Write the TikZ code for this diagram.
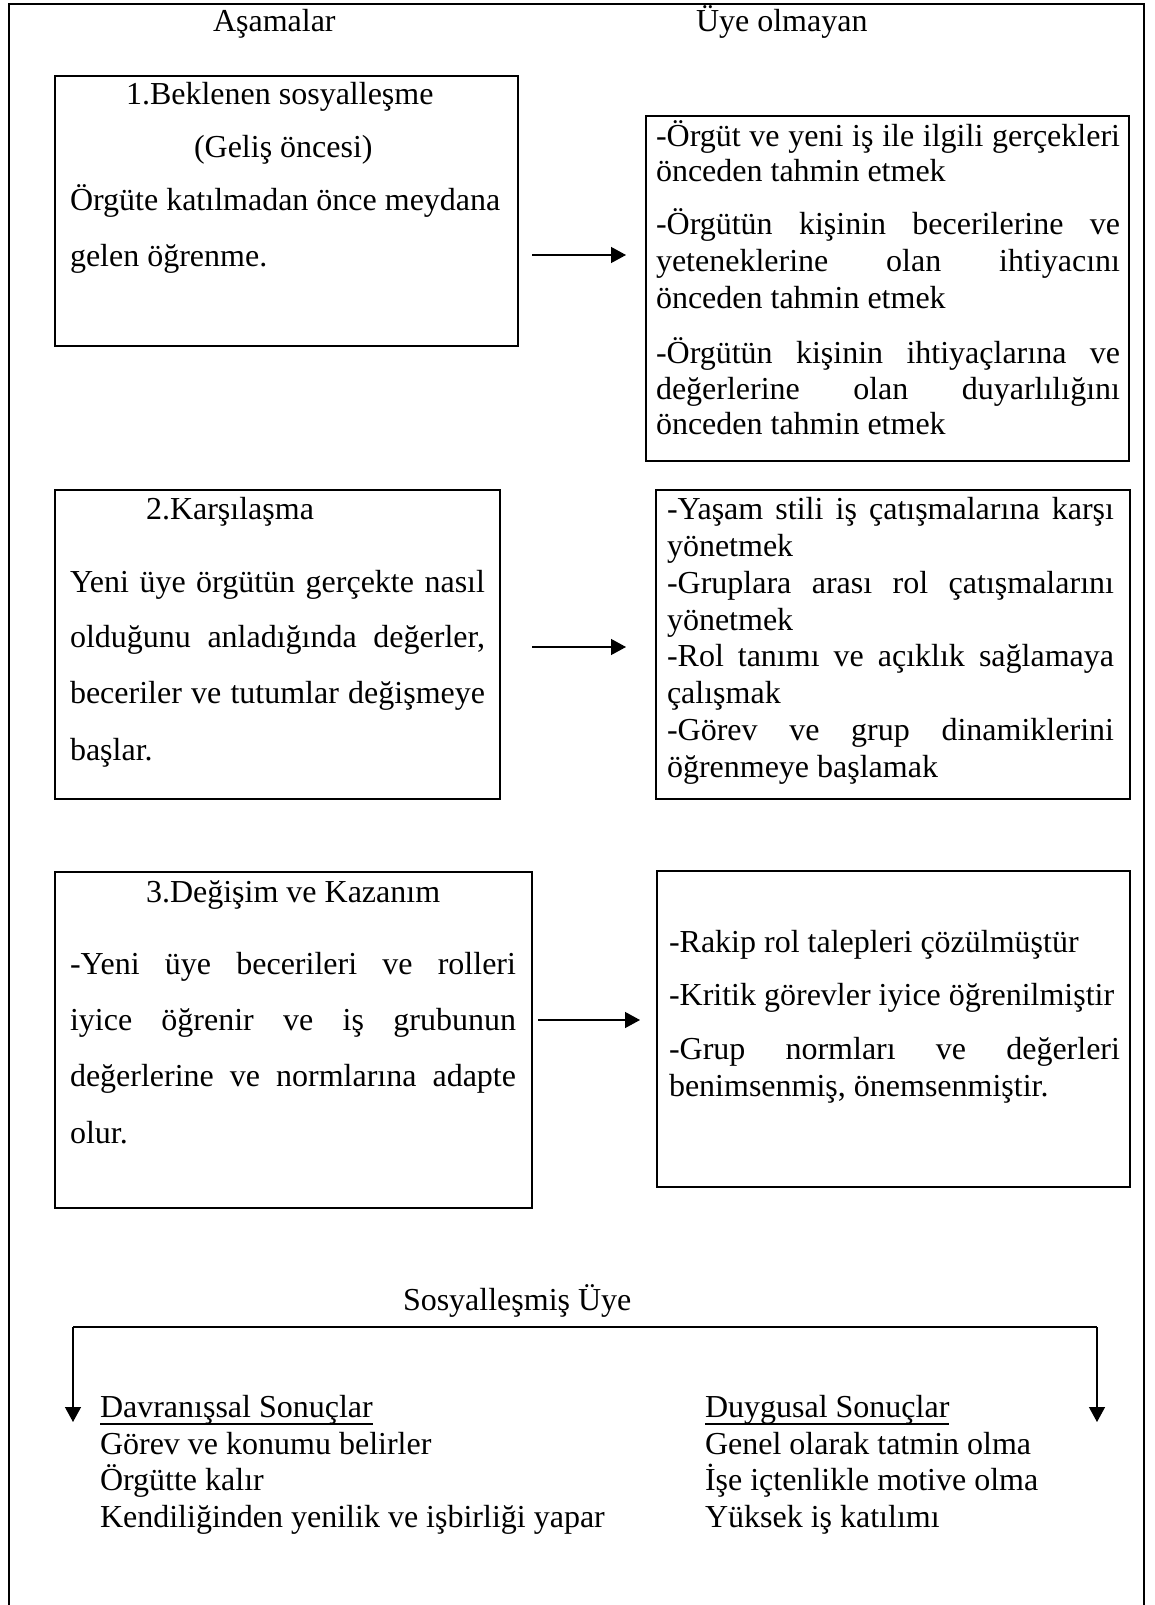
\documentclass[tikz,border=0pt]{standalone}
\usepackage{fontspec}
\setmainfont{Liberation Serif}
\usetikzlibrary{arrows.meta}
\newcommand{\JL}[2]{\makebox[#1][s]{#2}}
\begin{document}
\begin{tikzpicture}[x=1pt,y=-1pt,
  every node/.style={inner sep=0pt, outer sep=0pt, font=\fontsize{32}{37}\selectfont},
  ln/.style={anchor=base west},
  boxst/.style={draw, line width=1.7pt, anchor=north west, rectangle},
  frame/.style={line width=1.7pt},
  arr/.style={-{Triangle[length=15pt,width=16pt]}, line width=1.3pt},
  conn/.style={line width=1.4pt},
  ul/.style={line width=1.8pt}]
\useasboundingbox[fill=white] (0,0) rectangle (1154,1605);
% outer frame (open at the bottom)
\draw[frame] (9,1615) -- (9,4) -- (1144,4) -- (1144,1615);

% headings
\node[ln] (h1) at (213,32) {Aşamalar};
\node[ln] (h2) at (696,32) {Üye olmayan};

% boxes
\node[boxst, minimum width=463pt, minimum height=270pt] (b1) at (55,76) {};
\node[boxst, minimum width=483pt, minimum height=345pt] (r1) at (646,116) {};
\node[boxst, minimum width=445pt, minimum height=309pt] (b2) at (55,490) {};
\node[boxst, minimum width=474pt, minimum height=309pt] (r2) at (656,490) {};
\node[boxst, minimum width=477pt, minimum height=336pt] (b3) at (55,872) {};
\node[boxst, minimum width=473pt, minimum height=316pt] (r3) at (657,871) {};

% box 1 text
\node[ln] (t1a) at (126,105) {1.Beklenen sosyalleşme};
\node[ln] (t1b) at (194,158) {(Geliş öncesi)};
\node[ln] (t1c) at (70,211) {Örgüte katılmadan önce meydana};
\node[ln] (t1d) at (70,266) {gelen öğrenme.};

% right box 1 text
\node[ln] (u1a) at (656,147) {\JL{464pt}{-Örgüt ve yeni iş ile ilgili gerçekleri}};
\node[ln] (u1b) at (656,182) {önceden tahmin etmek};
\node[ln] (u1c) at (656,235) {\JL{464pt}{-Örgütün kişinin becerilerine ve}};
\node[ln] (u1d) at (656,272) {\JL{464pt}{yeteneklerine olan ihtiyacını}};
\node[ln] (u1e) at (656,308) {önceden tahmin etmek};
\node[ln] (u1f) at (656,363) {\JL{464pt}{-Örgütün kişinin ihtiyaçlarına ve}};
\node[ln] (u1g) at (656,399) {\JL{464pt}{değerlerine olan duyarlılığını}};
\node[ln] (u1h) at (656,434) {önceden tahmin etmek};

% box 2 text
\node[ln] (t2a) at (146,519) {2.Karşılaşma};
\node[ln] (t2b) at (70,592) {\JL{415pt}{Yeni üye örgütün gerçekte nasıl}};
\node[ln] (t2c) at (70,647) {\JL{415pt}{olduğunu anladığında değerler,}};
\node[ln] (t2d) at (70,703) {\JL{415pt}{beceriler ve tutumlar değişmeye}};
\node[ln] (t2e) at (70,760) {başlar.};

% right box 2 text
\node[ln] (u2a) at (667,519) {\JL{447pt}{-Yaşam stili iş çatışmalarına karşı}};
\node[ln] (u2b) at (667,556) {yönetmek};
\node[ln] (u2c) at (667,593) {\JL{447pt}{-Gruplara arası rol çatışmalarını}};
\node[ln] (u2d) at (667,630) {yönetmek};
\node[ln] (u2e) at (667,666) {\JL{447pt}{-Rol tanımı ve açıklık sağlamaya}};
\node[ln] (u2f) at (667,703) {çalışmak};
\node[ln] (u2g) at (667,740) {\JL{447pt}{-Görev ve grup dinamiklerini}};
\node[ln] (u2h) at (667,777) {öğrenmeye başlamak};

% box 3 text
\node[ln] (t3a) at (146,902) {3.Değişim ve Kazanım};
\node[ln] (t3b) at (70,974) {\JL{446pt}{-Yeni üye becerileri ve rolleri}};
\node[ln] (t3c) at (70,1030) {\JL{446pt}{iyice öğrenir ve iş grubunun}};
\node[ln] (t3d) at (70,1086) {\JL{446pt}{değerlerine ve normlarına adapte}};
\node[ln] (t3e) at (70,1143) {olur.};

% right box 3 text
\node[ln] (u3a) at (669,952) {-Rakip rol talepleri çözülmüştür};
\node[ln] (u3b) at (669,1005) {-Kritik görevler iyice öğrenilmiştir};
\node[ln] (u3c) at (669,1059) {\JL{451pt}{-Grup normları ve değerleri}};
\node[ln] (u3d) at (669,1096) {benimsenmiş, önemsenmiştir.};

% stage arrows
\coordinate (y1) at (0,255);
\coordinate (y2) at (0,647);
\coordinate (y3) at (0,1020);
\draw[arr, shorten <=14pt, shorten >=20pt] (b1.east |- y1) -- (r1.west |- y1);
\draw[arr, shorten <=32pt, shorten >=30pt] (b2.east |- y2) -- (r2.west |- y2);
\draw[arr, shorten <=6pt, shorten >=17pt] (b3.east |- y3) -- (r3.west |- y3);

% socialised member
\node[ln] (s0) at (403,1310) {Sosyalleşmiş Üye};
\coordinate (hl) at (73,1327);
\coordinate (hr) at (1097,1327);
\coordinate (tl) at (73,1422);
\coordinate (tr) at (1097,1422);
\draw[conn] (hl) -- (hr);
\draw[arr] (hl) -- (tl);
\draw[arr] (hr) -- (tr);

\node[ln] (d0) at (100,1417) {Davranışsal Sonuçlar};
\node[ln] (d1) at (100,1454) {Görev ve konumu belirler};
\node[ln] (d2) at (100,1490) {Örgütte kalır};
\node[ln] (d3) at (100,1527) {Kendiliğinden yenilik ve işbirliği yapar};
\node[ln] (e0) at (705,1417) {Duygusal Sonuçlar};
\node[ln] (e1) at (705,1454) {Genel olarak tatmin olma};
\node[ln] (e2) at (705,1490) {İşe içtenlikle motive olma};
\node[ln] (e3) at (705,1527) {Yüksek iş katılımı};
\draw[ul] ([yshift=-7pt]d0.base west) -- ([yshift=-7pt]d0.base east);
\draw[ul] ([yshift=-7pt]e0.base west) -- ([yshift=-7pt]e0.base east);
\end{tikzpicture}
\end{document}
